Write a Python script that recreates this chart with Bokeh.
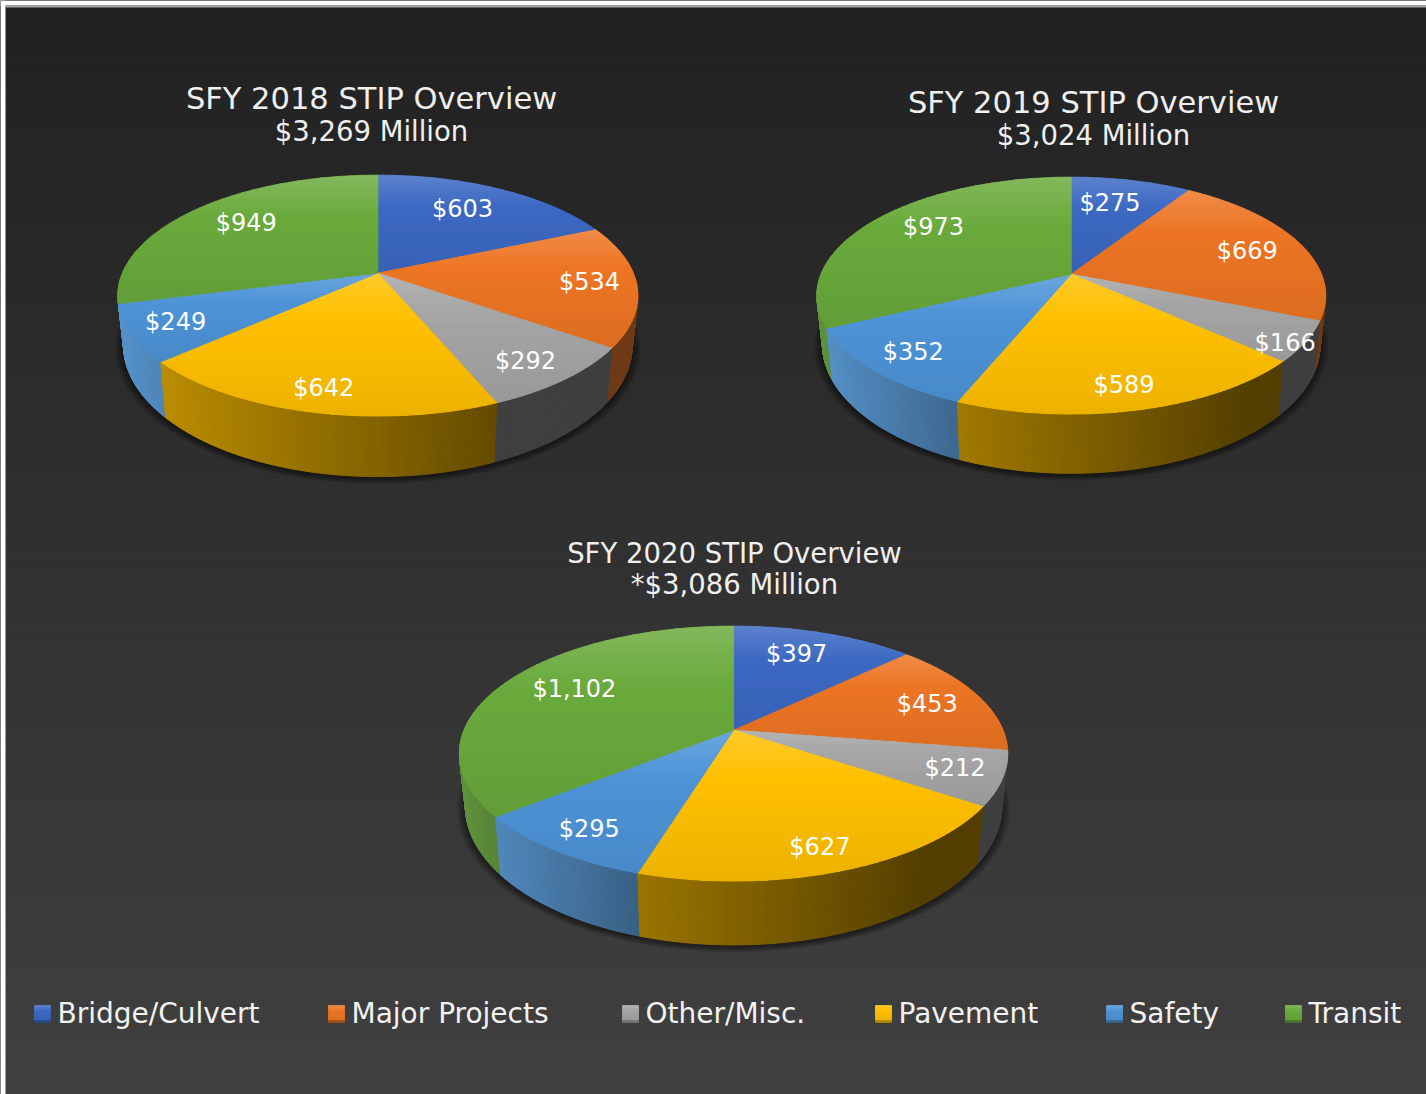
import math
from bokeh.plotting import figure
from bokeh.models import Range1d, ColumnDataSource
from bokeh.core.properties import value
from bokeh.embed import file_html
from bokeh.resources import INLINE

# ---- data -------------------------------------------------------------
categories = ["Bridge/Culvert", "Major Projects", "Other/Misc.", "Pavement", "Safety", "Transit"]
sfy_2018 = [603, 534, 292, 642, 249, 949]
sfy_2019 = [275, 669, 166, 589, 352, 973]
sfy_2020 = [397, 453, 212, 627, 295, 1102]
titles = ["SFY 2018 STIP Overview", "SFY 2019 STIP Overview", "SFY 2020 STIP Overview"]
subtitles = ["$3,269 Million", "$3,024 Million", "*$3,086 Million"]

# ---- style ------------------------------------------------------------
W, H = 1426, 1094
TOP = [(60, 105, 195), (237, 117, 36), (165, 165, 165), (255, 192, 0), (78, 148, 215), (106, 170, 60)]
SIDE = [(68, 114, 196), (237, 125, 49), (165, 165, 165), (255, 192, 0), (91, 155, 213), (112, 173, 71)]
FLOOR = [0.33, 0.47, 0.38, 0.33, 0.60, 0.45]
START = [0.78, 0.78, 0.78, 0.78, 0.95, 0.85]
SLOPE = [0.53, 0.53, 0.53, 0.53, 1.0, 1.2]
FONT = "DejaVu Sans"


def hexc(c):
    return "#%02x%02x%02x" % tuple(int(round(max(0, min(255, v)))) for v in c)


def mix(a, b, t):
    return tuple(a[i] + (b[i] - a[i]) * t for i in range(3))


def top_color(base, t):
    if t < 0.33:
        return mix(mix(base, (255, 255, 255), 0.17), base, t / 0.33)
    return mix(base, (0, 0, 0), 0.07 * (t - 0.33) / 0.67)


def clip(poly, y0, y1):
    def half(pts, inside, cut):
        out = []
        for i in range(len(pts)):
            a, b = pts[i - 1], pts[i]
            ia, ib = inside(a), inside(b)
            if ia != ib:
                s = (cut - a[1]) / (b[1] - a[1])
                out.append((a[0] + s * (b[0] - a[0]), cut))
            if ib:
                out.append(b)
        return out
    p = half(poly, lambda q: q[1] >= y0, y0)
    if p:
        p = half(p, lambda q: q[1] <= y1, y1)
    return p


bg = dict(left=[], right=[], top=[], bottom=[], color=[])
shadow = dict(xs=[], ys=[])
faces = dict(xs=[], ys=[], color=[])
labels = dict(x=[], y=[], text=[])
under2 = dict(xs=[], ys=[], color=[])
top2 = dict(xs=[], ys=[], color=[])


def side_color(i, t):
    return hexc(mix((0, 0, 0), SIDE[i], max(FLOOR[i], START[i] - SLOPE[i] * t)))


def draw_pie(values, cx, vy, rx, up, down, nudges):
    k = (down - up) / (down + up)
    b = up * (1 + k)
    a = rx * math.sqrt(1 - k * k)
    xmin, xmax = cx - rx, cx + rx
    total = sum(values)

    def rim(deg):
        u, v = math.sin(math.radians(deg)), math.cos(math.radians(deg))
        w = 1 + k * v
        return cx + a * u / w, vy - b * v / w

    def lower(pt):
        s = rx / 260.0
        return cx + 0.978 * (pt[0] - cx), vy + 47.9 * s + 1.088 * (pt[1] - vy)

    # soft shadow
    ring = [lower(rim(d)) for d in range(0, 360, 3)]
    for e in range(1, 7):
        f = 1 + e * 1.4 / rx
        shadow["xs"].append([cx + (q[0] - cx) * f for q in ring])
        shadow["ys"].append([vy + 20 + (q[1] - vy - 20) * f + 1.5 for q in ring])

    # walls painted from the back to the front, then top faces
    tops = []
    strips = []
    cum = 0
    for i, val in enumerate(values):
        a0 = 360.0 * cum / total
        a1 = 360.0 * (cum + val) / total
        cum += val
        n = max(2, int((a1 - a0) * 2))
        angs = [a0 + (a1 - a0) * j / n for j in range(n + 1)]
        for d0, d1 in zip(angs[:-1], angs[1:]):
            vm = math.cos(math.radians((d0 + d1) / 2))
            if vm > 0.35:
                continue
            p0, p1 = rim(d0), rim(d1)
            q0, q1 = lower(p0), lower(p1)
            t = ((p0[0] + p1[0]) / 2 - xmin) / (xmax - xmin)
            strips.append((vm, [p0[0], p1[0], q1[0], q0[0]], [p0[1], p1[1], q1[1], q0[1]], side_color(i, t)))
        wedge = [(cx, vy)] + [rim(d) for d in angs]
        tops.append((i, wedge))
        # data label: inside the rim on the slice's middle direction
        mid = (a0 + a1) / 2
        u, v = math.sin(math.radians(mid)), math.cos(math.radians(mid))
        rp = rim(mid)
        dx = max(-48, min(48, 64 * u))
        labels["x"].append(rp[0] - dx + nudges[i][0])
        labels["y"].append(rp[1] + 24 * v + nudges[i][1])
        labels["text"].append("$" + format(val, ","))
    for vm, xs, ys, col in sorted(strips, key=lambda s: -s[0]):
        faces["xs"].append(xs)
        faces["ys"].append(ys)
        faces["color"].append(col)
    for i, wedge in tops:
        ys = [q[1] for q in wedge]
        y0, y1 = min(ys), max(ys)
        under2["xs"].append([q[0] for q in wedge])
        under2["ys"].append([q[1] for q in wedge])
        under2["color"].append(hexc(TOP[i]))
        yy = y0
        while yy < y1:
            ye = min(y1, yy + 3)
            part = clip(wedge, yy, ye)
            if len(part) >= 3:
                top2["xs"].append([q[0] for q in part])
                top2["ys"].append([q[1] for q in part])
                top2["color"].append(hexc(top_color(TOP[i], ((yy + ye) / 2 - y0) / (y1 - y0))))
            yy = ye


# background
steps = 62
for s in range(steps):
    bg["left"].append(0); bg["right"].append(W)
    bg["top"].append(H * s / steps); bg["bottom"].append(H * (s + 1) / steps)
    g = 33 + 31 * (s + 0.5) / steps
    bg["color"].append(hexc((g, g, g)))

draw_pie(sfy_2018, 377.4, 272.6, 260, 98, 143,
         [(-1.4, 0), (0.6, -0.5), (0.6, 0), (0.6, 0), (-3.4, 0), (1.6, -1)])
draw_pie(sfy_2019, 1070.8, 273.6, 254.4, 97, 140,
         [(-3.4, -0.5), (-2.4, 2), (27.6, 14), (-0.4, -1), (-4.4, -1), (7.6, -4)])
draw_pie(sfy_2020, 733.1, 729.6, 274.2, 104, 151,
         [(-2.4, -1), (-2.4, 1), (0.6, -2), (-1.4, -1), (-1.4, -1), (17.6, -2)])

# legend swatches
leg_x = [34, 328, 622, 875, 1106, 1285]
for i, x in enumerate(leg_x):
    for j in range(17):
        top2["xs"].append([x, x + 16, x + 16, x])
        top2["ys"].append([1005 + j, 1005 + j, 1006 + j, 1006 + j])
        c = top_color(TOP[i], j / 16)
        if j >= 15:
            c = mix(c, (0, 0, 0), 0.25)
        top2["color"].append(hexc(c))

p = figure(width=W, height=H, x_range=Range1d(0, W), y_range=Range1d(H, 0),
           toolbar_location=None, output_backend="svg", min_border=0,
           background_fill_color="#303030", border_fill_color="#303030", outline_line_color=None)
p.axis.visible = False
p.grid.visible = False

p.quad(left="left", right="right", top="top", bottom="bottom", color="color", source=ColumnDataSource(bg))
# white page edge and thin grey line of the original slide picture
p.quad(left=[0, 0, 5], right=[5, W, W], top=[0, 0, 5], bottom=[H, 5, 7],
       fill_color=["#ffffff", "#ffffff", "#a8a8a8"], line_color=None)
p.patches("xs", "ys", source=ColumnDataSource(shadow), fill_color="black", fill_alpha=0.09, line_color=None)
p.patches("xs", "ys", source=ColumnDataSource(faces), fill_color="color", line_color="color", line_width=1)
p.patches("xs", "ys", source=ColumnDataSource(under2), fill_color="color", line_color=None)
p.patches("xs", "ys", source=ColumnDataSource(top2), fill_color="color", line_color="color", line_width=0.8)

p.text("x", "y", text="text", source=ColumnDataSource(labels), text_color="#ffffff",
       text_font=value(FONT), text_font_size="24px", text_align="center", text_baseline="middle")

title_x = [371, 1093, 734]
title_y = [98, 102, 552]
sub_y = [130, 134, 583]
title_size = ["30.5px", "30.5px", "27.5px"]
sub_size = ["27.5px", "27.5px", "27.5px"]
for i in range(3):
    p.text([title_x[i]], [title_y[i]], text=[titles[i]], text_color="#efefef", text_font=value(FONT),
           text_font_size=title_size[i], text_align="center", text_baseline="middle")
    p.text([title_x[i]], [sub_y[i]], text=[subtitles[i]], text_color="#efefef", text_font=value(FONT),
           text_font_size=sub_size[i], text_align="center", text_baseline="middle")

leg_tx = [x + 23 for x in leg_x]
p.text(leg_tx, [1013] * 6, text=categories, text_color="#f2f2f2", text_font=value(FONT),
       text_font_size="28px", text_align="left", text_baseline="middle")

open("out.html", "w").write(file_html(p, INLINE))
